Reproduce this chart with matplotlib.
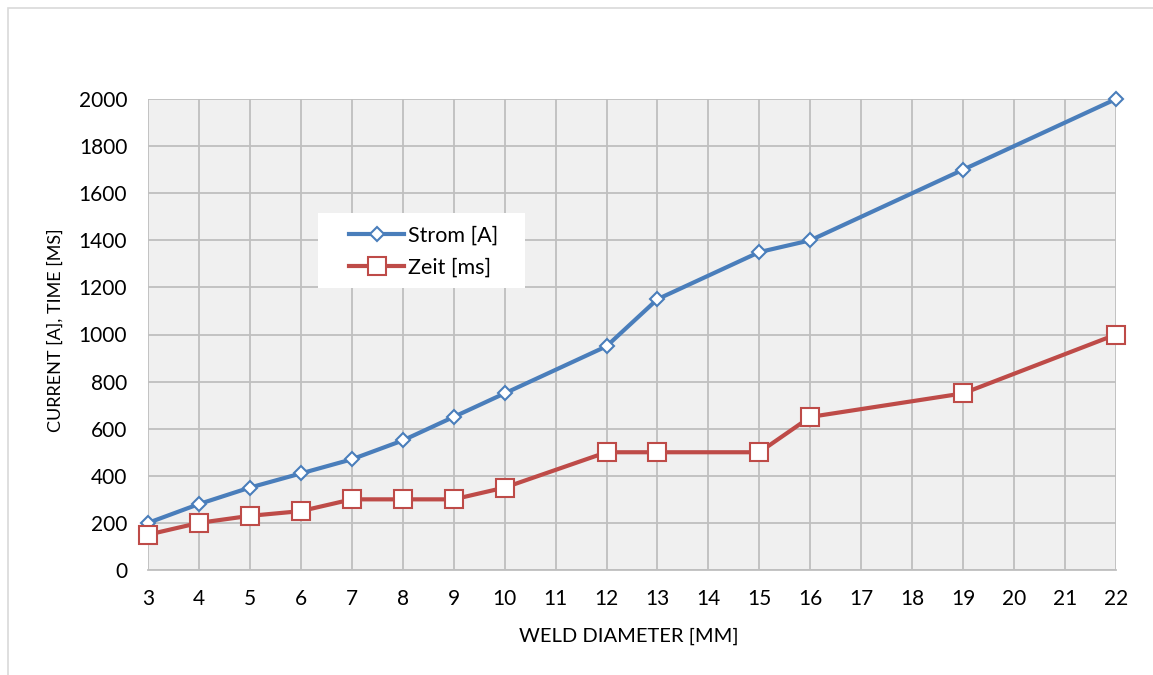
import matplotlib
matplotlib.use("Agg")
import matplotlib.pyplot as plt
from matplotlib.patches import Rectangle

diameter = [3, 4, 5, 6, 7, 8, 9, 10, 12, 13, 15, 16, 19, 22]
strom = [200, 280, 350, 410, 470, 550, 650, 750, 950, 1150, 1350, 1400, 1700, 2000]
zeit = [150, 200, 230, 250, 300, 300, 300, 350, 500, 500, 500, 650, 750, 1000]
x_ticks = list(range(3, 23))
y_ticks = list(range(0, 2001, 200))

plt.rcParams['font.family'] = ['Lato', 'DejaVu Sans']

W, H = 1153, 675
L, R, T, B = 148, 1116, 99, 570
fig = plt.figure(figsize=(W / 100, H / 100), dpi=100)
fig.patches.append(Rectangle((8 / W, -0.01), 1.2, 1 - 8 / H + 0.01, transform=fig.transFigure,
                             fill=False, edgecolor='#d9d9d9', linewidth=1.2))
ax = fig.add_axes([L / W, 1 - B / H, (R - L) / W, (B - T) / H])
ax.set_facecolor('#f0f0f0')
ax.set_xlim(3, 22)
ax.set_ylim(0, 2000)
ax.set_xticks(x_ticks)
ax.set_yticks(y_ticks)
ax.grid(True, color='#bfbfbf', linewidth=1.3)
ax.set_axisbelow(True)
for s in ['top', 'right', 'left']:
    ax.spines[s].set_visible(False)
ax.spines['bottom'].set_color('#bfbfbf')
ax.spines['bottom'].set_linewidth(1.3)
ax.tick_params(length=0, labelsize=15, colors='black')
ax.tick_params(axis='x', pad=14)
ax.tick_params(axis='y', pad=15)

ax.plot(diameter, strom, color='#4a7ebb', linewidth=3, marker='D', markersize=7.5,
        markerfacecolor='white', markeredgecolor='#4a7ebb', markeredgewidth=1.5,
        label='Strom [A]', clip_on=False, zorder=3)
ax.plot(diameter, zeit, color='#be4b48', linewidth=3, marker='s', markersize=12.5,
        markerfacecolor='white', markeredgecolor='#be4b48', markeredgewidth=1.5,
        label='Zeit [ms]', clip_on=False, zorder=3)

ax.set_xlabel('WELD DIAMETER [MM]', fontsize=14.5, va='center', ha='center')
ax.xaxis.set_label_coords((629 - L) / (R - L), (B - 636) / (B - T))
ax.set_ylabel('CURRENT [A], TIME [MS]', fontsize=13, va='center', ha='center')
ax.yaxis.set_label_coords((55 - L) / (R - L), (B - 330) / (B - T))

# legend background box
ax.add_patch(Rectangle(((318 - L) / (R - L), (B - 288) / (B - T)), 207 / (R - L), 75 / (B - T),
                       transform=ax.transAxes, facecolor='white', edgecolor='none', zorder=2.5))
leg = ax.legend(loc='center left', bbox_to_anchor=((349 - L) / (R - L), (B - 251.5) / (B - T)),
                frameon=False, fontsize=15.5, handlelength=2.56, borderpad=0,
                labelspacing=0.55, handletextpad=0.2, borderaxespad=0)

fig.savefig('out.png', dpi=100)
